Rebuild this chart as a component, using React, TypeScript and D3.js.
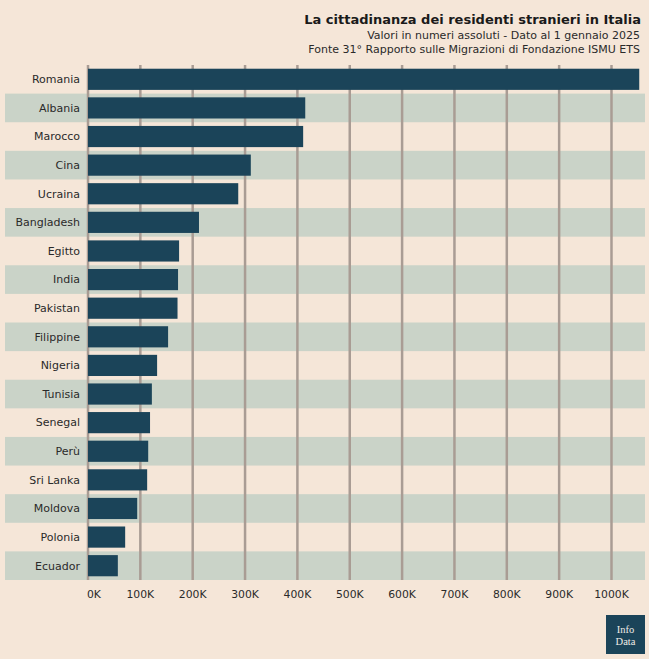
import React from "react";
import * as d3 from "d3";

const countries = ["Romania","Albania","Marocco","Cina","Ucraina","Bangladesh","Egitto","India","Pakistan","Filippine","Nigeria","Tunisia","Senegal","Perù","Sri Lanka","Moldova","Polonia","Ecuador"];
const residents = [1053000,415000,411000,311000,287000,212000,174000,172000,171000,153000,132000,122000,118500,115000,113000,94000,71000,57000];
const tickValues = [0,100000,200000,300000,400000,500000,600000,700000,800000,900000,1000000];
const domainMax = 1064000;

const title = "La cittadinanza dei residenti stranieri in Italia";
const subtitle1 = "Valori in numeri assoluti - Dato al 1 gennaio 2025";
const subtitle2 = "Fonte 31° Rapporto sulle Migrazioni di Fondazione ISMU ETS";

const W = 649, H = 659;
const BG = "#f5e6d8";
const BAND = "#cad3c8";
const BAR = "#1b4459";
const GRID = "#a99c94";
const TEXT = "#2a2a2a";
const FONT = "'DejaVu Sans', sans-serif";

export default function App() {
  const x = d3.scaleLinear().domain([0, domainMax]).range([88, 645]);
  const yRow = d3.scaleBand<string>().domain(countries).range([65, 580]).padding(0);
  const yBar = d3.scaleBand<string>().domain(countries).range([65, 580]).paddingInner(0.26).paddingOuter(0.13);
  const fmt = (v: number) => `${Math.round(v / 1000)}K`;

  return (
    <svg width={W} height={H} style={{ position: "absolute", left: 0, top: 0, display: "block" }} fontFamily={FONT}>
      <rect x={0} y={0} width={W} height={H} fill={BG} />
      <text x={641} y={24} textAnchor="end" fontSize={13} fontWeight="bold" fill="#1a1a1a">{title}</text>
      <text x={640} y={38.5} textAnchor="end" fontSize={11} fill={TEXT}>{subtitle1}</text>
      <text x={640} y={52.5} textAnchor="end" fontSize={11} fill={TEXT}>{subtitle2}</text>

      {countries.map((c, i) => i % 2 === 1 ? (
        <rect key={"band" + c} x={5} y={yRow(c)} width={640} height={yRow.bandwidth()} fill={BAND} />
      ) : null)}

      {tickValues.map(t => (
        <line key={"g" + t} x1={x(t)} x2={x(t)} y1={65} y2={580} stroke={GRID} strokeWidth={2.5} />
      ))}

      {countries.map((c, i) => (
        <rect key={"bar" + c} x={x(0)} y={yBar(c)} width={x(residents[i]) - x(0)} height={yBar.bandwidth()} fill={BAR} />
      ))}

      {countries.map(c => (
        <text key={"lbl" + c} x={80} y={(yRow(c) as number) + yRow.bandwidth() / 2} dy="0.35em" textAnchor="end" fontSize={11} fill={TEXT}>{c}</text>
      ))}

      {tickValues.map((t, i) => (
        <text key={"t" + t} x={i === 0 ? x(t) - 1 : x(t)} y={598} textAnchor={i === 0 ? "start" : "middle"} fontSize={10.8} fill={TEXT}>{fmt(t)}</text>
      ))}

      <rect x={606} y={615} width={39} height={39} fill={BAR} />
      <text x={625.5} y={632.5} textAnchor="middle" fontSize={10.5} fontFamily="'Liberation Serif', 'DejaVu Serif', serif" fill="#f0ece6">Info</text>
      <text x={625.5} y={644.5} textAnchor="middle" fontSize={10.5} fontFamily="'Liberation Serif', 'DejaVu Serif', serif" fill="#f0ece6">Data</text>
    </svg>
  );
}
